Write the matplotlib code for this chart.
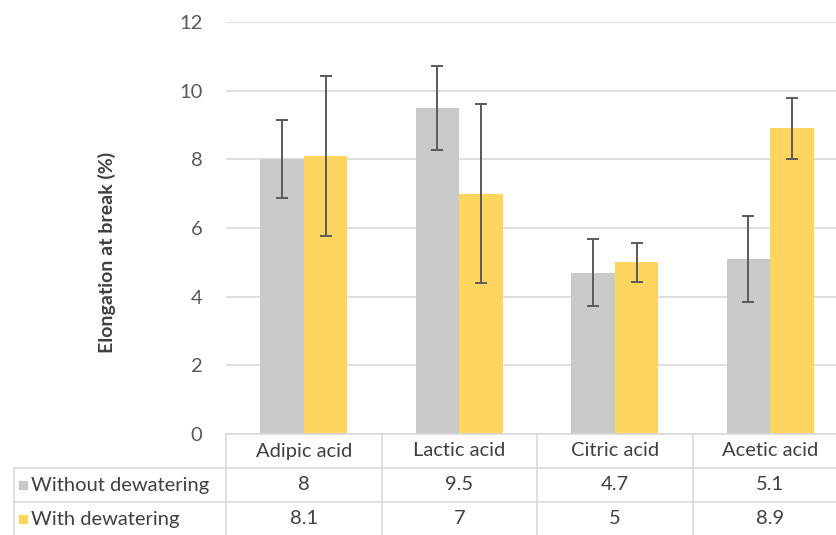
import matplotlib
matplotlib.use("Agg")
import matplotlib.pyplot as plt
import matplotlib.transforms as mtransforms
from matplotlib.lines import Line2D
from matplotlib.patches import Rectangle
import numpy as np

plt.rcParams['font.family'] = ['Lato', 'DejaVu Sans']

categories = ["Adipic acid", "Lactic acid", "Citric acid", "Acetic acid"]
series_names = ["Without dewatering", "With dewatering"]
without_vals = [8, 9.5, 4.7, 5.1]
with_vals = [8.1, 7, 5, 8.9]
without_err = [1.14, 1.23, 0.98, 1.25]
with_err = [2.32, 2.6, 0.57, 0.88]
yticks = [0, 2, 4, 6, 8, 10, 12]

GRAY = "#c9c9c9"
YELLOW = "#fdd55f"
TXT = "#404040"
TICK = "#595959"
LINE = "#d9d9d9"
FS = 14.5

W, H = 836, 535
fig = plt.figure(figsize=(W / 100, H / 100), dpi=100)

def fx(px):
    return px / W

def fy(py):
    return 1 - py / H

ax_left, ax_right = 226, 836
ax_top, ax_bot = 22, 434
ax = fig.add_axes([fx(ax_left), fy(ax_bot), fx(ax_right - ax_left), (ax_bot - ax_top) / H])
cat_w = 155.5
ax.set_xlim(-0.5, -0.5 + (ax_right - ax_left) / cat_w)
ax.set_ylim(0, 12)

x = np.arange(len(categories))
bw = 0.28
ax.bar(x - bw / 2, without_vals, bw, color=GRAY, zorder=2)
ax.bar(x + bw / 2, with_vals, bw, color=YELLOW, zorder=2)
ax.errorbar(x - bw / 2, without_vals, yerr=without_err, fmt='none', ecolor="#5a5a5a",
            elinewidth=1.4, capsize=4, capthick=1.4, zorder=3)
ax.errorbar(x + bw / 2, with_vals, yerr=with_err, fmt='none', ecolor="#5a5a5a",
            elinewidth=1.4, capsize=4, capthick=1.4, zorder=3)

ax.set_yticks(yticks)
ax.set_yticklabels([str(t) for t in yticks])
ax.tick_params(axis='y', length=0, pad=17, labelsize=FS, labelcolor=TICK)
ax.set_xticks([])
ax.yaxis.grid(True, color=LINE, linewidth=1.2, zorder=0)
ax.set_axisbelow(True)
for s in ['top', 'right', 'left']:
    ax.spines[s].set_visible(False)
ax.spines['bottom'].set_color(LINE)
ax.spines['bottom'].set_linewidth(1.2)

fig.text(fx(107), fy(252), "Elongation at break (%)", rotation=90, ha='center', va='center',
         fontsize=14, fontweight='bold', color=TXT)

# Data table below the axes
trans = mtransforms.blended_transform_factory(ax.transData, fig.transFigure)
row_header_y = 451
row_y = [485, 519]
line_ys = [468, 502]
table_bottom = 535

for b in np.arange(-0.5, len(categories), 1.0):
    ax.add_line(Line2D([b, b], [fy(ax_bot), fy(table_bottom)], transform=trans, color=LINE,
                       linewidth=1.2, clip_on=False))
for ly in line_ys:
    fig.add_artist(Line2D([fx(14), 1.0], [fy(ly), fy(ly)], color=LINE, linewidth=1.2))
fig.add_artist(Line2D([fx(14), fx(14)], [fy(468), fy(table_bottom)], color=LINE, linewidth=1.2))

for i, c in enumerate(categories):
    ax.text(x[i], fy(row_header_y), c, transform=trans, ha='center', va='center',
            fontsize=FS, color=TXT)
for r, vals in enumerate([without_vals, with_vals]):
    for i, v in enumerate(vals):
        ax.text(x[i], fy(row_y[r]), f"{v:g}", transform=trans, ha='center', va='center',
                fontsize=FS, color=TXT)

for r, (name, col) in enumerate(zip(series_names, [GRAY, YELLOW])):
    fig.add_artist(Rectangle((fx(19), fy(row_y[r] + 4)), fx(8), 8 / H, color=col))
    fig.text(fx(31), fy(row_y[r]), name, ha='left', va='center', fontsize=FS, color=TXT)

fig.savefig("out.png", dpi=100)
